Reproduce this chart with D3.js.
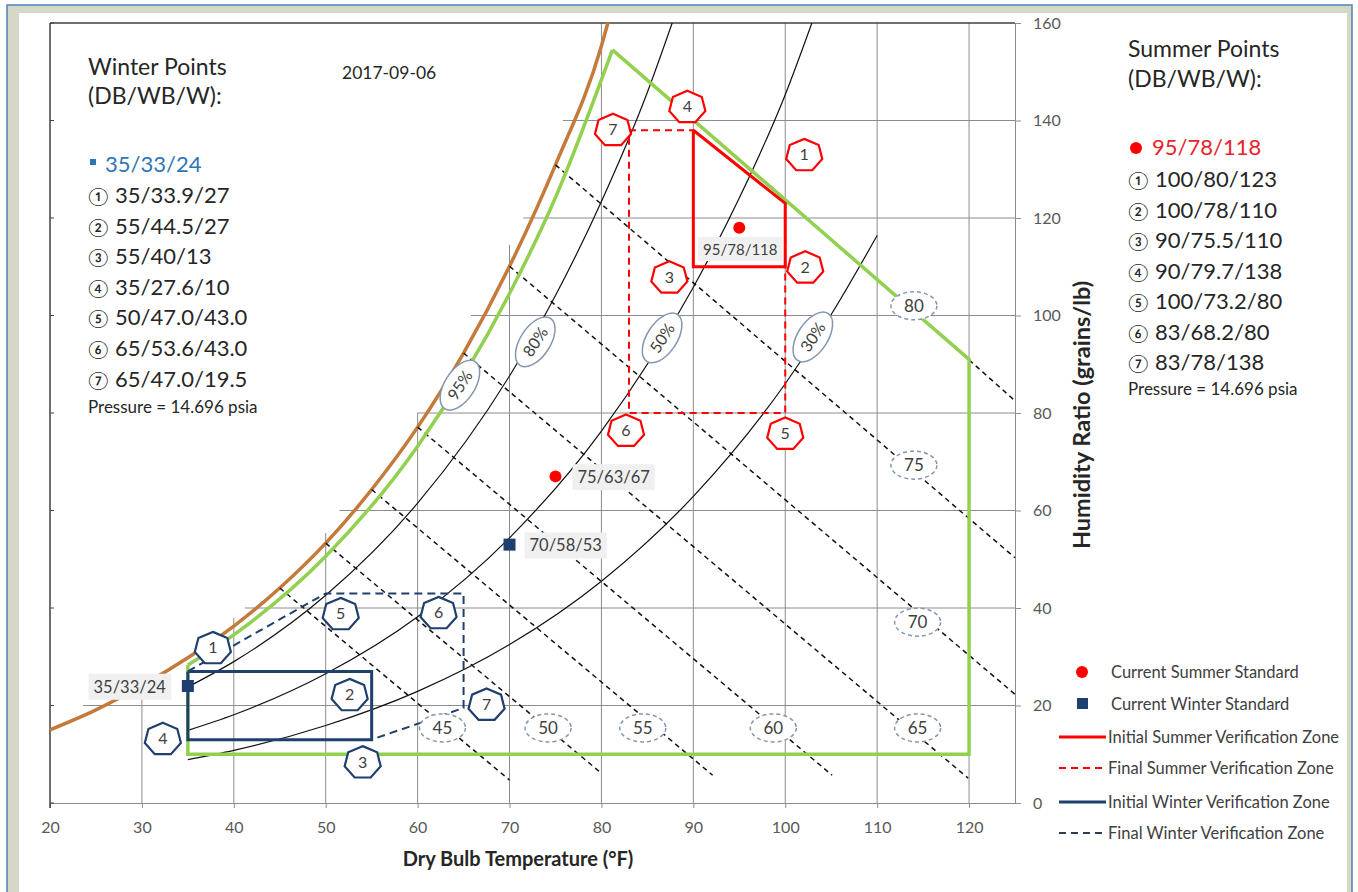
<!DOCTYPE html>
<html>
<head>
<meta charset="utf-8">
<script src="https://cdn.jsdelivr.net/npm/d3@7"></script>
<style>
  body { margin: 0; background: #fff; }
  svg text { font-family: Lato, "Open Sans", "DejaVu Sans", sans-serif; }
</style>
</head>
<body>
<svg id="chart" width="1358" height="892"></svg>
<script>
// axis ticks
var xTicks = [20, 30, 40, 50, 60, 70, 80, 90, 100, 110, 120];
var yTicks = [0, 20, 40, 60, 80, 100, 120, 140, 160];

// grid lines are cut off near the saturation curve
var gridT = [30, 40, 50, 60, 70, 80, 90, 100, 110, 120];
var gridTopW = [26, 38, 55.4, 80, 114.5, 160, 160, 160, 160, 160];
var gridW = [20, 40, 60, 80, 100, 120, 140];
var gridLeftT = [23.6, 41.2, 51.5, 60, 65.8, 71.5, 75.8];

// saturation curve (dry bulb F, grains/lb)
var satT = [20, 25, 30, 35, 40, 45, 50, 55, 60, 65, 70, 75, 80, 80.7];
var satW = [15.0, 19.1, 24.1, 29.8, 36.3, 44.1, 53.3, 64.3, 77.1, 92.3, 110.1, 130.9, 155.3, 160];

// relative humidity curves
var rh80T = [35, 40, 50, 60, 70, 75, 80, 85, 87.7];
var rh80W = [23.8, 29.0, 42.6, 61.5, 87.6, 104.1, 123.4, 145.8, 160];
var rh50T = [35, 40, 50, 60, 70, 80, 90, 95, 100, 102.9];
var rh50W = [14.9, 18.1, 26.5, 38.2, 54.4, 76.3, 105.8, 124.1, 145.3, 160];
var rh30T = [35, 40, 50, 60, 70, 80, 90, 100, 105, 110];
var rh30W = [8.9, 10.8, 15.9, 22.9, 32.5, 45.5, 62.9, 86.0, 100.2, 116.4];
var rhLabels = ["95%", "80%", "50%", "30%"];
var rhLabelT = [64.6, 72.8, 86.6, 103.0];
var rhLabelW = [85.7, 94.6, 95.4, 95.6];

// wet bulb lines
var wbLabels = ["45", "50", "55", "60", "65", "70", "75", "80"];
var wbStartT = [45, 50, 55, 60, 65, 70, 75, 120];
var wbStartW = [44.1, 53.3, 64.3, 77.1, 92.3, 110.1, 130.9, 90.9];
var wbEndT = [70, 80, 92.1, 105.1, 119.9, 125, 125, 125];
var wbEndW = [4.7, 6.1, 5.7, 5.7, 5.1, 22.3, 50.3, 82.5];
var wbLabelT = [62.7, 74.2, 84.5, 98.7, 114.4, 114.4, 114.0, 114.0];
var wbLabelW = [15.4, 15.4, 15.4, 15.4, 15.4, 37.1, 69.3, 102.0];

// green comfort zone (95% curve then straight edges)
var zoneCurveT = [35, 40, 50, 60, 70, 75, 81.2];
var zoneCurveW = [28.3, 34.5, 50.6, 73.2, 104.5, 124.2, 154.5];
var zoneEdgeT = [81.2, 120, 120, 35, 35];
var zoneEdgeW = [154.5, 91, 10, 10, 28.3];

// summer points 1-7
var summerT = [100, 100, 90, 90, 100, 83, 83];
var summerW = [123, 110, 110, 138, 80, 80, 138];
var summerText = ["100/80/123", "100/78/110", "90/75.5/110", "90/79.7/138", "100/73.2/80", "83/68.2/80", "83/78/138"];
// winter points 1-7
var winterT = [35, 55, 55, 35, 50, 65, 65];
var winterW = [27, 27, 13, 10, 43, 43, 19.5];
var winterText = ["35/33.9/27", "55/44.5/27", "55/40/13", "35/27.6/10", "50/47.0/43.0", "65/53.6/43.0", "65/47.0/19.5"];

// verification zones
var sumInitT = [90, 100, 100, 90, 90];
var sumInitW = [138, 123, 110, 110, 138];
var sumFinalT = [83, 90, 100, 100, 100, 83, 83];
var sumFinalW = [138, 138, 123, 110, 80, 80, 138];
var winInitT = [35, 55, 55, 35, 35];
var winInitW = [27, 27, 13, 13, 27];
var winFinalT = [35, 50, 65, 65, 55];
var winFinalW = [27, 43, 43, 19.5, 13];

// current standards
var sumStdT = [95, 75], sumStdW = [118, 67], sumStdText = ["95/78/118", "75/63/67"];
var winStdT = [35, 70], winStdW = [24, 53], winStdText = ["35/33/24", "70/58/53"];

var circled = ["\u2460", "\u2461", "\u2462", "\u2463", "\u2464", "\u2465", "\u2466"];

var red = "#ff0000", navy = "#1f3f6e", green = "#92d050", brown = "#c47a3a";
var ovalStroke = "#8497b0", txt = "#404040", dark = "#262626";

var x = d3.scaleLinear().domain([20, 125]).range([50, 1015]);
var y = d3.scaleLinear().domain([0, 160]).range([803, 23]);
var svg = d3.select("#chart");

function pairs(a, b) { return a.map(function(t, i) { return [t, b[i]]; }); }
var smooth = d3.line().x(function(d) { return x(d[0]); }).y(function(d) { return y(d[1]); }).curve(d3.curveMonotoneX);
var straight = d3.line().x(function(d) { return x(d[0]); }).y(function(d) { return y(d[1]); });

// window frame
svg.append("rect").attr("x", 7).attr("y", 5).attr("width", 1345).attr("height", 900)
  .attr("fill", "#d5d7c7").attr("stroke", "#4f81bd").attr("stroke-width", 1.5);
svg.append("rect").attr("x", 19).attr("y", 13).attr("width", 1328).attr("height", 890).attr("fill", "#fff");

// grid
var grid = svg.append("g").attr("stroke", "#8c8c8c").attr("stroke-width", 1);
gridT.forEach(function(t, i) {
  grid.append("line").attr("x1", x(t)).attr("x2", x(t)).attr("y1", y(0)).attr("y2", y(gridTopW[i]));
});
gridW.forEach(function(w, i) {
  grid.append("line").attr("x1", x(gridLeftT[i])).attr("x2", x(125)).attr("y1", y(w)).attr("y2", y(w));
});

// axes
var xAxis = d3.axisBottom(x).tickValues(xTicks).tickSize(5).tickSizeOuter(0).tickPadding(14);
var gx = svg.append("g").attr("transform", "translate(0," + y(0) + ")").call(xAxis);
var yAxis = d3.axisRight(y).tickValues(yTicks).tickSize(6).tickSizeOuter(0).tickPadding(12);
var gy = svg.append("g").attr("transform", "translate(" + x(125) + ",0)").call(yAxis);
[gx, gy].forEach(function(g) {
  g.select(".domain").attr("stroke", "#8c8c8c");
  g.selectAll(".tick line").attr("stroke", "#8c8c8c");
  g.selectAll(".tick text").attr("font-size", 16).attr("fill", "#595959")
    .attr("font-family", "Lato, 'Open Sans', sans-serif");
});

// top and left frame of plot
svg.append("line").attr("x1", x(20)).attr("x2", x(125)).attr("y1", y(160)).attr("y2", y(160))
  .attr("stroke", "#404040").attr("stroke-width", 1.5);
svg.append("line").attr("x1", x(20)).attr("x2", x(20)).attr("y1", y(160)).attr("y2", y(0) + 5)
  .attr("stroke", "#404040").attr("stroke-width", 1.5);
yTicks.forEach(function(w) {
  svg.append("line").attr("x1", x(20)).attr("x2", x(20) + 4).attr("y1", y(w)).attr("y2", y(w))
    .attr("stroke", "#404040");
});

svg.append("text").attr("x", 518).attr("y", 866).attr("text-anchor", "middle")
  .attr("font-size", 20).attr("font-weight", "bold").attr("fill", dark)
  .text("Dry Bulb Temperature (\u00B0F)");
svg.append("text").attr("transform", "translate(1090,415) rotate(-90)").attr("text-anchor", "middle")
  .attr("font-size", 23.5).attr("font-weight", "bold").attr("fill", dark)
  .text("Humidity Ratio (grains/lb)");

// saturation curve
svg.append("path").attr("d", smooth(pairs(satT, satW))).attr("fill", "none")
  .attr("stroke", brown).attr("stroke-width", 3.5);

// RH curves
[[rh80T, rh80W], [rh50T, rh50W], [rh30T, rh30W]].forEach(function(c) {
  svg.append("path").attr("d", smooth(pairs(c[0], c[1]))).attr("fill", "none")
    .attr("stroke", "#111").attr("stroke-width", 1.2);
});

// wet bulb lines
wbLabels.forEach(function(s, i) {
  svg.append("line").attr("x1", x(wbStartT[i])).attr("y1", y(wbStartW[i]))
    .attr("x2", x(wbEndT[i])).attr("y2", y(wbEndW[i]))
    .attr("stroke", "#111").attr("stroke-width", 1.5).attr("stroke-dasharray", "5,4");
});

// green zone
svg.append("path").attr("d", smooth(pairs(zoneCurveT, zoneCurveW))).attr("fill", "none")
  .attr("stroke", green).attr("stroke-width", 3.5);
svg.append("path").attr("d", straight(pairs(zoneEdgeT, zoneEdgeW))).attr("fill", "none")
  .attr("stroke", green).attr("stroke-width", 3.5).attr("stroke-linejoin", "miter");

// verification zones
svg.append("path").attr("d", straight(pairs(sumFinalT, sumFinalW))).attr("fill", "none")
  .attr("stroke", red).attr("stroke-width", 2).attr("stroke-dasharray", "7,5");
svg.append("path").attr("d", straight(pairs(sumInitT, sumInitW))).attr("fill", "none")
  .attr("stroke", red).attr("stroke-width", 3);
svg.append("path").attr("d", straight(pairs(winFinalT, winFinalW))).attr("fill", "none")
  .attr("stroke", navy).attr("stroke-width", 2).attr("stroke-dasharray", "8,5");
svg.append("path").attr("d", straight(pairs(winInitT, winInitW))).attr("fill", "none")
  .attr("stroke", navy).attr("stroke-width", 3);

// RH labels
rhLabels.forEach(function(s, i) {
  var g = svg.append("g")
    .attr("transform", "translate(" + x(rhLabelT[i]) + "," + y(rhLabelW[i]) + ") rotate(-57)");
  g.append("ellipse").attr("rx", 28).attr("ry", 15).attr("fill", "#fff")
    .attr("stroke", ovalStroke).attr("stroke-width", 1.5);
  g.append("text").attr("text-anchor", "middle").attr("dy", "0.36em")
    .attr("font-size", 16).attr("fill", txt).text(s);
});

// wet bulb labels
wbLabels.forEach(function(s, i) {
  var g = svg.append("g").attr("transform", "translate(" + x(wbLabelT[i]) + "," + y(wbLabelW[i]) + ")");
  g.append("ellipse").attr("rx", 23).attr("ry", 14).attr("fill", "#fff")
    .attr("stroke", ovalStroke).attr("stroke-width", 1.5).attr("stroke-dasharray", "4,3");
  g.append("text").attr("text-anchor", "middle").attr("dy", "0.36em")
    .attr("font-size", 17).attr("fill", txt).text(s);
});

// point labels with grey box
function tag(px, py, s, anchor, size) {
  var t = svg.append("text").attr("x", px).attr("y", py).attr("dy", "0.35em")
    .attr("text-anchor", anchor).attr("font-size", size).attr("fill", txt).text(s);
  var b = t.node().getBBox();
  svg.insert("rect", function() { return t.node(); })
    .attr("x", b.x - 5).attr("y", b.y - 3).attr("width", b.width + 10).attr("height", b.height + 6)
    .attr("fill", "#f0f0f0");
}

// current standards
sumStdT.forEach(function(t, i) {
  svg.append("circle").attr("cx", x(t)).attr("cy", y(sumStdW[i])).attr("r", 6).attr("fill", red);
});
tag(x(sumStdT[0]) + 1, y(sumStdW[0]) + 22, sumStdText[0], "middle", 15);
tag(x(sumStdT[1]) + 22, y(sumStdW[1]) + 1, sumStdText[1], "start", 16.5);
winStdT.forEach(function(t, i) {
  svg.append("rect").attr("x", x(t) - 6).attr("y", y(winStdW[i]) - 6).attr("width", 12).attr("height", 12)
    .attr("fill", navy);
});
tag(x(winStdT[0]) - 22, y(winStdW[0]) + 1, winStdText[0], "end", 16.5);
tag(x(winStdT[1]) + 20, y(winStdW[1]) + 1, winStdText[1], "start", 16.5);

// numbered heptagon markers
function hept(cx, cy) {
  var pts = d3.range(7).map(function(k) {
    var a = -Math.PI / 2 + k * 2 * Math.PI / 7;
    return [cx + 18.5 * Math.cos(a), cy + 1 + 16.5 * Math.sin(a)];
  });
  return d3.line()(pts) + "Z";
}
var summerTagOffset = [[19, -49], [20, 0], [-24, 10], [-6, -24], [0, 20], [-3, 17], [-16, -1]];
var winterTagOffset = [[25, -24], [-22, 23], [-9, 22], [-25, -16], [15, 20], [-25, 19], [23, -4]];
function markers(T, W, off, col) {
  T.forEach(function(t, i) {
    var cx = x(t) + off[i][0], cy = y(W[i]) + off[i][1];
    svg.append("path").attr("d", hept(cx, cy)).attr("fill", "#fff")
      .attr("stroke", col).attr("stroke-width", 2.2);
    svg.append("text").attr("x", cx).attr("y", cy).attr("dy", "0.38em").attr("text-anchor", "middle")
      .attr("font-size", 16).attr("fill", txt).text(i + 1);
  });
}
markers(summerT, summerW, summerTagOffset, red);
markers(winterT, winterW, winterTagOffset, navy);

// date
svg.append("text").attr("x", 342).attr("y", 79).attr("font-size", 17.5).attr("fill", dark).text("2017-09-06");

// winter points block
svg.append("text").attr("x", 88).attr("y", 75).attr("font-size", 23).attr("fill", dark).text("Winter Points");
svg.append("text").attr("x", 88).attr("y", 104).attr("font-size", 23).attr("fill", dark).text("(DB/WB/W):");
svg.append("rect").attr("x", 90).attr("y", 159).attr("width", 6).attr("height", 6).attr("fill", "#2e75b6");
svg.append("text").attr("x", 105).attr("y", 172).attr("font-size", 22).attr("fill", "#2e75b6").text(winStdText[0]);
winterText.forEach(function(s, i) {
  svg.append("text").attr("x", 88).attr("y", 203 + i * 30.6).attr("font-size", 18).attr("fill", dark).text(circled[i]);
  svg.append("text").attr("x", 115).attr("y", 203 + i * 30.6).attr("font-size", 22).attr("fill", dark).text(s);
});
svg.append("text").attr("x", 88).attr("y", 413).attr("font-size", 17).attr("fill", dark).text("Pressure = 14.696 psia");

// summer points block
svg.append("text").attr("x", 1128).attr("y", 57).attr("font-size", 23).attr("fill", dark).text("Summer Points");
svg.append("text").attr("x", 1128).attr("y", 87).attr("font-size", 23).attr("fill", dark).text("(DB/WB/W):");
svg.append("circle").attr("cx", 1136).attr("cy", 148).attr("r", 6).attr("fill", red);
svg.append("text").attr("x", 1152).attr("y", 155).attr("font-size", 22).attr("fill", "#e8232a").text(sumStdText[0]);
summerText.forEach(function(s, i) {
  svg.append("text").attr("x", 1128).attr("y", 187 + i * 30.5).attr("font-size", 18).attr("fill", dark).text(circled[i]);
  svg.append("text").attr("x", 1155).attr("y", 187 + i * 30.5).attr("font-size", 22).attr("fill", dark).text(s);
});
svg.append("text").attr("x", 1128).attr("y", 395).attr("font-size", 17).attr("fill", dark).text("Pressure = 14.696 psia");

// legend
var legendNames = ["Current Summer Standard", "Current Winter Standard", "Initial Summer Verification Zone",
  "Final Summer Verification Zone", "Initial Winter Verification Zone", "Final Winter Verification Zone"];
var legendY = [672, 704, 737, 768, 802, 833];
var leg = svg.append("g");
leg.append("circle").attr("cx", 1082).attr("cy", legendY[0]).attr("r", 6).attr("fill", red);
leg.append("rect").attr("x", 1077).attr("y", legendY[1] - 6).attr("width", 11).attr("height", 11).attr("fill", navy);
leg.append("line").attr("x1", 1059).attr("x2", 1106).attr("y1", legendY[2]).attr("y2", legendY[2])
  .attr("stroke", red).attr("stroke-width", 3);
leg.append("line").attr("x1", 1059).attr("x2", 1106).attr("y1", legendY[3]).attr("y2", legendY[3])
  .attr("stroke", red).attr("stroke-width", 2).attr("stroke-dasharray", "7,5");
leg.append("line").attr("x1", 1059).attr("x2", 1106).attr("y1", legendY[4]).attr("y2", legendY[4])
  .attr("stroke", navy).attr("stroke-width", 3);
leg.append("line").attr("x1", 1059).attr("x2", 1106).attr("y1", legendY[5]).attr("y2", legendY[5])
  .attr("stroke", "#2f3b4f").attr("stroke-width", 2).attr("stroke-dasharray", "7,5");
legendNames.forEach(function(s, i) {
  leg.append("text").attr("x", i < 2 ? 1111 : 1108).attr("y", legendY[i]).attr("dy", "0.35em")
    .attr("font-size", 16.5).attr("fill", txt).text(s);
});
</script>
</body>
</html>
